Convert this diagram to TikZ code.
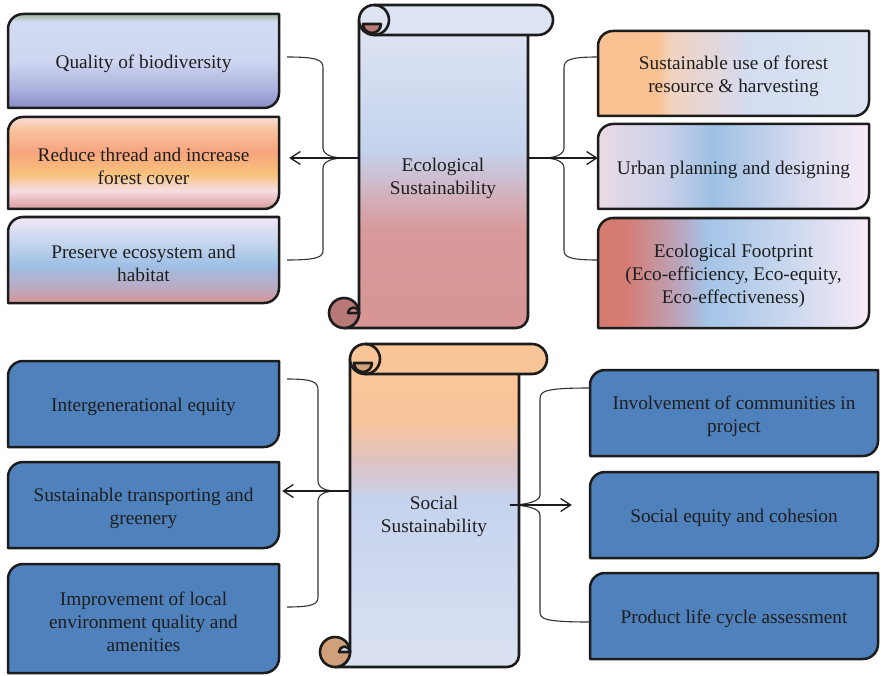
\documentclass[tikz,border=0pt]{standalone}
\usepackage{fontspec}
\setmainfont{Liberation Serif}
\usetikzlibrary{arrows.meta}

\definecolor{edge}{HTML}{1C1C1C}
\definecolor{textdark}{HTML}{1E1E1E}
\definecolor{socblue}{HTML}{4F81BD}
% box colours, top to bottom or left to right
\definecolor{qualA}{HTML}{9DB59B}\definecolor{qualB}{HTML}{D3DBF2}
\definecolor{qualC}{HTML}{CFD6F1}\definecolor{qualD}{HTML}{ADB1DE}
\definecolor{qualE}{HTML}{8A8CC6}
\definecolor{thrA}{HTML}{F7DCD8}\definecolor{thrB}{HTML}{F9C6A4}
\definecolor{thrC}{HTML}{F6A47C}\definecolor{thrD}{HTML}{F8C27C}
\definecolor{thrE}{HTML}{F7DDE4}\definecolor{thrF}{HTML}{D89A9A}
\definecolor{presA}{HTML}{F3E6F6}\definecolor{presB}{HTML}{C5D5EE}
\definecolor{presC}{HTML}{9EC0E4}\definecolor{presD}{HTML}{B9ACC6}
\definecolor{presE}{HTML}{D69494}
\definecolor{harA}{HTML}{F9C091}\definecolor{harB}{HTML}{F9C293}
\definecolor{harC}{HTML}{F2D3C0}\definecolor{harD}{HTML}{DAD9E8}
\definecolor{harE}{HTML}{D3DDF0}\definecolor{harF}{HTML}{DCE4F4}
\definecolor{urbA}{HTML}{EADAE5}\definecolor{urbB}{HTML}{CBD1E9}
\definecolor{urbC}{HTML}{9DC0E3}\definecolor{urbD}{HTML}{D7DBEF}
\definecolor{urbE}{HTML}{F8EAF6}
\definecolor{fpA}{HTML}{D57A70}\definecolor{fpB}{HTML}{D57C73}
\definecolor{fpC}{HTML}{BBA5BD}\definecolor{fpD}{HTML}{A4C4E7}
\definecolor{fpE}{HTML}{C9D7EE}\definecolor{fpF}{HTML}{F8EBF6}
% scroll colours
\definecolor{ecoA}{HTML}{DFE5F3}\definecolor{ecoB}{HTML}{C4D3EE}
\definecolor{ecoC}{HTML}{D3AFBA}\definecolor{ecoD}{HTML}{D8999A}
\definecolor{ecoE}{HTML}{D79595}\definecolor{ecoRoll}{HTML}{DDE4F3}
\definecolor{ecoCurl}{HTML}{B87878}
\definecolor{socA}{HTML}{FAC596}\definecolor{socB}{HTML}{F9C49A}
\definecolor{socC}{HTML}{DCC3C6}\definecolor{socD}{HTML}{C6D3EE}
\definecolor{socE}{HTML}{DAE1F2}\definecolor{socCurl}{HTML}{CFA07A}

\pgfdeclareverticalshading{qualshade}{100bp}{color(0bp)=(qualE); color(25bp)=(qualE);
 color(35bp)=(qualD); color(50bp)=(qualC); color(71bp)=(qualB); color(75bp)=(qualA); color(100bp)=(qualA)}
\pgfdeclareverticalshading{threadshade}{100bp}{color(0bp)=(thrF); color(25bp)=(thrF);
 color(35bp)=(thrE); color(44bp)=(thrD); color(56bp)=(thrC); color(69bp)=(thrB); color(75bp)=(thrA); color(100bp)=(thrA)}
\pgfdeclareverticalshading{presshade}{100bp}{color(0bp)=(presE); color(25bp)=(presE);
 color(35bp)=(presD); color(47bp)=(presC); color(60bp)=(presB); color(75bp)=(presA); color(100bp)=(presA)}
\pgfdeclarehorizontalshading{harvshade}{100bp}{color(0bp)=(harA); color(25bp)=(harA);
 color(36bp)=(harB); color(38.5bp)=(harC); color(50bp)=(harD); color(52.5bp)=(harE); color(75bp)=(harF); color(100bp)=(harF)}
\pgfdeclarehorizontalshading{urbshade}{100bp}{color(0bp)=(urbA); color(25bp)=(urbA);
 color(37.5bp)=(urbB); color(46bp)=(urbC); color(62.5bp)=(urbD); color(75bp)=(urbE); color(100bp)=(urbE)}
\pgfdeclarehorizontalshading{footshade}{100bp}{color(0bp)=(fpA); color(25bp)=(fpA);
 color(30bp)=(fpB); color(40bp)=(fpC); color(45bp)=(fpD); color(60bp)=(fpE); color(75bp)=(fpF); color(100bp)=(fpF)}
\pgfdeclareverticalshading{ecoshade}{100bp}{color(0bp)=(ecoE); color(25bp)=(ecoE);
 color(41bp)=(ecoD); color(46bp)=(ecoC); color(54bp)=(ecoB); color(75bp)=(ecoA); color(100bp)=(ecoA)}
\pgfdeclareverticalshading{socshade}{100bp}{color(0bp)=(socE); color(25bp)=(socE);
 color(52bp)=(socD); color(58bp)=(socC); color(65bp)=(socB); color(75bp)=(socA); color(100bp)=(socA)}

% box with round top left and bottom right corners: name, x1, y1, x2, y2, fill, text
\newcommand{\leafbox}[7]{%
 \path[leaf,#6] (#2,{-#3-15}) arc[start angle=180,end angle=90,radius=15] -- (#4,-#3)
   -- (#4,{-#5+15}) arc[start angle=0,end angle=-90,radius=15] -- (#2,-#5) -- cycle;
 \node[leaftext,minimum width={#4-#2},minimum height={#5-#3}] (#1) at ({(#2+#4)/2},{-(#3+#5)/2}) {#7};
}
% scroll: left, right, top, bottom, roll end, body shading, roll, curl, notch
\newcommand{\scrollpage}[9]{%
 \path[scrollline,shade,shading=#6] (#1,{-#3-15}) -- (#1,{-#4+15}) arc[start angle=0,end angle=-90,radius=15]
   -- ({#2-12},-#4) arc[start angle=-90,end angle=0,radius=12] -- (#2,{-#3-15}) -- cycle;
 \draw[scrollline,fill=#8] ({#1-15},{-#4+15}) circle[radius=15];
 \draw[scrollline,fill=#9] ({#1-11},{-#4+15}) arc[start angle=180,end angle=0,radius=5.5] -- cycle;
 \draw[scrollline,fill=#7] ({#1+15},-#3) -- ({#5-15},-#3) arc[start angle=90,end angle=-90,radius=15]
   -- ({#1+15},{-#3-30}) arc[start angle=-90,end angle=-270,radius=15] -- cycle;
 \draw[scrollline] ({#1+15},-#3) arc[start angle=90,end angle=-90,radius=15];
 \draw[scrollline,fill=#8] ({#1+4},{-#3-19}) -- ({#1+22},{-#3-19}) arc[start angle=0,end angle=-180,radius=9] -- cycle;
}

\begin{document}
\begin{tikzpicture}[x=1pt,y=1pt,
 leaf/.style={draw=edge,line width=2.5pt,line join=round},
 leaftext/.style={align=center,inner sep=0pt,text=textdark,yshift=-3pt,font=\fontsize{19.3}{23}\selectfont},
 scrollline/.style={draw=edge,line width=2.6pt,line join=round},
 brace/.style={draw=black!80,line width=1.1pt},
 stub/.style={draw=edge,line width=2pt},
 pointer/.style={draw=edge,line width=1.3pt,-{Straight Barb[length=10pt,width=13pt]}}]
\useasboundingbox (0,0) rectangle (882,-676);

% ecological scroll and boxes
\scrollpage{359}{528}{5}{328}{553}{ecoshade}{ecoRoll}{ecoCurl}{ecoE}
\node[leaftext] (eco) at (443,-175) {Ecological\\Sustainability};

\leafbox{qual}{8}{14}{279}{108}{shade,shading=qualshade}{Quality of biodiversity}
\leafbox{thread}{8}{117}{279}{209}{shade,shading=threadshade}{Reduce thread and increase\\forest cover}
\leafbox{preserve}{8}{217}{279}{303}{shade,shading=presshade}{Preserve ecosystem and\\habitat}
\leafbox{harvest}{598}{31}{869}{116}{shade,shading=harvshade}{Sustainable use of forest\\resource \& harvesting}
\leafbox{urban}{598}{124}{869}{209}{shade,shading=urbshade}{Urban planning and designing}
\leafbox{footprint}{598}{218}{869}{328}{shade,shading=footshade}{Ecological Footprint\\(Eco-efficiency, Eco-equity,\\Eco-effectiveness)}

% social scroll and boxes
\scrollpage{350}{519}{344}{667}{547}{socshade}{socA}{socCurl}{socE}
\node[leaftext] (soc) at (434,-513) {Social\\Sustainability};

\leafbox{equity}{8}{361}{279}{447}{fill=socblue}{Intergenerational equity}
\leafbox{move}{8}{462}{279}{548}{fill=socblue}{Sustainable transporting and\\greenery}
\leafbox{local}{8}{564}{279}{673}{fill=socblue}{Improvement of local\\environment quality and\\amenities}
\leafbox{involve}{590}{370}{878}{456}{fill=socblue}{Involvement of communities in\\project}
\leafbox{cohesion}{590}{472}{878}{558}{fill=socblue}{Social equity and cohesion}
\leafbox{lifecycle}{590}{573}{878}{659}{fill=socblue}{Product life cycle assessment}

% braces
\coordinate (ecoW) at (359,-158);
\coordinate (ecoE) at (528,-158);
\coordinate (socW) at (350,-491);
\coordinate (socE) at (519,-505);
\coordinate (tlTip) at (345,-158);
\coordinate (trTip) at (543,-158);
\coordinate (blTip) at (336,-491);
\coordinate (brTip) at (510,-505);

\draw[brace] (287,-57) .. controls (318,-57) and (323,-60) .. (323,-68) -- (323,-148)
  .. controls (323,-155) and (333,-158) .. (tlTip) .. controls (333,-158) and (323,-161) .. (323,-168)
  -- (323,-250) .. controls (323,-257) and (318,-260) .. (287,-260);
\draw[brace] (598,-57) .. controls (569,-57) and (564,-60) .. (564,-68) -- (564,-148)
  .. controls (564,-155) and (554,-158) .. (trTip) .. controls (554,-158) and (564,-161) .. (564,-168)
  -- (564,-250) .. controls (564,-257) and (569,-260) .. (598,-260);
\draw[brace] (287,-379) .. controls (313,-379) and (318,-382) .. (318,-390) -- (318,-481)
  .. controls (318,-488) and (326,-491) .. (blTip) .. controls (326,-491) and (318,-494) .. (318,-501)
  -- (318,-597) .. controls (318,-604) and (313,-607) .. (287,-607);
\draw[brace] (590,-388) .. controls (545,-388) and (540,-391) .. (540,-399) -- (540,-495)
  .. controls (540,-502) and (524,-505) .. (brTip) .. controls (524,-505) and (540,-508) .. (540,-515)
  -- (540,-612) .. controls (540,-619) and (545,-622) .. (590,-622);

% arrows
\draw[stub] (ecoW) -- (tlTip);
\draw[pointer] (ecoW) -- ([xshift=10pt]thread.east |- ecoW);
\draw[stub] (ecoE) -- (trTip);
\draw[pointer] (ecoE) -- (urban.west |- ecoE);
\draw[stub] (socW) -- (blTip);
\draw[pointer] (socW) -- ([xshift=3pt]move.east |- socW);
\draw[stub] (socE) -- (brTip);
\draw[pointer] (socE) -- ([xshift=-18pt]cohesion.west |- socE);
\end{tikzpicture}
\end{document}
